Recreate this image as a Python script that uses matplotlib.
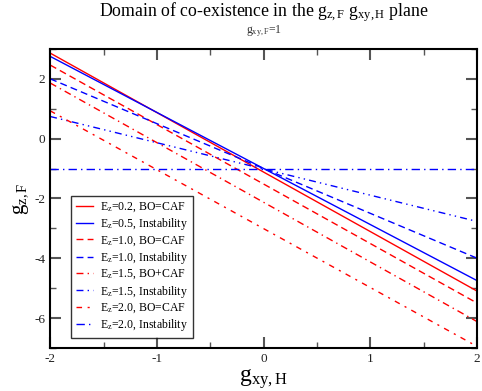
import matplotlib
matplotlib.use("Agg")
import matplotlib.pyplot as plt
import numpy as np
from matplotlib.ticker import MultipleLocator

plt.rcParams['font.family'] = ['Liberation Serif', 'DejaVu Serif']
plt.rcParams['mathtext.fontset'] = 'custom'
plt.rcParams['mathtext.rm'] = 'Liberation Serif'
plt.rcParams['mathtext.it'] = 'Liberation Serif:italic'
plt.rcParams['axes.unicode_minus'] = False

# x range of g_xy,H
x_ends = [-2, 2]

labels = [
    r"E$_\mathrm{z}$=0.2, BO=CAF",
    r"E$_\mathrm{z}$=0.5, Instability",
    r"E$_\mathrm{z}$=1.0, BO=CAF",
    r"E$_\mathrm{z}$=1.0, Instability",
    r"E$_\mathrm{z}$=1.5, BO+CAF",
    r"E$_\mathrm{z}$=1.5, Instability",
    r"E$_\mathrm{z}$=2.0, BO=CAF",
    r"E$_\mathrm{z}$=2.0, Instability",
]
# g_z,F at x=-2 and x=2 for each line
y_left = [2.86, 2.75, 2.46, 2.0, 1.86, 0.74, 0.93, -1.0]
y_right = [-5.10, -4.75, -5.50, -4.0, -6.12, -2.77, -6.95, -1.0]

colors = ['#ff0000', '#0000ff', '#ff0000', '#0000ff', '#ff0000', '#0000ff', '#ff0000', '#0000ff']
styles = ['-', '-', (0, (5, 3)), (0, (5, 3)), (0, (5, 3, 1, 3)), (0, (5, 3, 1, 3, 1, 3)),
          (0, (4, 4, 1.5, 4)), (0, (6, 3, 1, 3))]

fig = plt.figure(figsize=(4.82, 3.91), dpi=100)
ax = fig.add_axes([0.104, 0.110, 0.886, 0.765])

for yl, yr, c, s, lab in zip(y_left, y_right, colors, styles, labels):
    ax.plot(x_ends, [yl, yr], color=c, linestyle=s, lw=1.0, label=lab)

ax.set_xlim(-2, 2)
ax.set_ylim(-7, 3)
ax.xaxis.set_major_locator(MultipleLocator(1))
ax.xaxis.set_minor_locator(MultipleLocator(0.5))
ax.yaxis.set_major_locator(MultipleLocator(2))
ax.yaxis.set_minor_locator(MultipleLocator(1))
ax.tick_params(which='both', direction='in', top=True, right=True, color='#555555',
               labelsize=9.5, labelcolor='#222222')
ax.tick_params(which='major', length=8, width=1.5)
ax.tick_params(which='minor', length=4, width=1.0)
for sp in ax.spines.values():
    sp.set_linewidth(1.5)

ax.set_xlabel(r"g$_\mathrm{xy,H}$", fontsize=17, labelpad=2)
ax.set_ylabel(r"g$_\mathrm{z,F}$", fontsize=15, labelpad=2)

fig.text(0.548, 0.968, r"Domain of co-existence in the g$_\mathrm{z,F}$ g$_\mathrm{xy,H}$ plane",
         ha='center', va='center', fontsize=12.8)
fig.text(0.548, 0.921, r"g$_\mathrm{xy,F}$=1", ha='center', va='center', fontsize=8.5, color='#333333')

leg = ax.legend(loc='lower left', bbox_to_anchor=(0.05, 0.035), fontsize=8.5, frameon=True,
                fancybox=False, edgecolor='black', handlelength=1.5, labelspacing=0.18,
                borderpad=0.35, handletextpad=0.6, borderaxespad=0.0)
leg.get_frame().set_linewidth(1.0)

fig.savefig("out.png", dpi=100)
